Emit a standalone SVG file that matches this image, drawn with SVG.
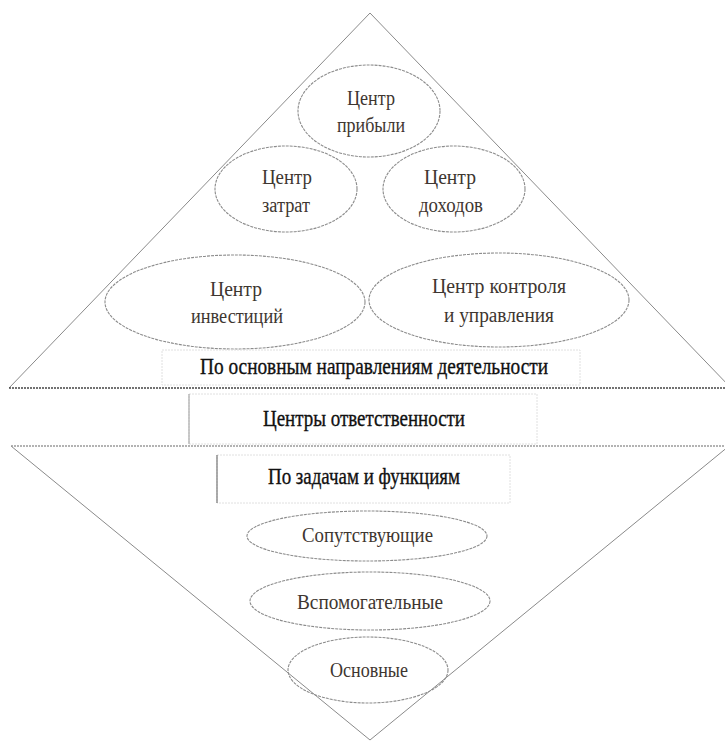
<svg xmlns="http://www.w3.org/2000/svg" width="725" height="743" viewBox="0 0 725 743">
<style>
.tri{fill:none;stroke:#8a8a8a;stroke-width:1}
.base{stroke:#444444;stroke-width:1.5;stroke-dasharray:2 1}
.base2{stroke:#9a9a9a;stroke-width:1.5;stroke-dasharray:2 1}
.ell{fill:none;stroke:#8c8c8c;stroke-width:1.1;stroke-dasharray:3 1}
.box{fill:#ffffff;stroke:#e0e0e0;stroke-width:1;stroke-dasharray:2 1}
.side{stroke:#aaaaaa;stroke-width:1.2}
text{font-family:"Liberation Serif","Times New Roman",serif}
.s{font-size:20px;fill:#3e3630}
.b{font-size:23px;fill:#111111;stroke:#111111;stroke-width:0.35}
</style>
<rect x="0" y="0" width="725" height="743" fill="#ffffff"/>
<g id="connectors">
<polyline class="tri" points="9,388 370,13 731,388"/>
<polyline class="tri" points="11,446 370,740 729,446"/>
<line class="base" x1="9" y1="388" x2="725" y2="388"/>
<line class="base2" x1="11" y1="446" x2="725" y2="446"/>
</g>
<g id="n-profit">
<ellipse class="ell" cx="369" cy="111" rx="71" ry="46"/>
<text class="s" x="347" y="105" textLength="48" lengthAdjust="spacingAndGlyphs" font-family="Liberation Serif, serif">Центр</text>
<text class="s" x="337" y="132" textLength="68" lengthAdjust="spacingAndGlyphs" font-family="Liberation Serif, serif">прибыли</text>
</g>
<g id="n-cost">
<ellipse class="ell" cx="286" cy="189" rx="71" ry="43"/>
<text class="s" x="262" y="184" textLength="50" lengthAdjust="spacingAndGlyphs" font-family="Liberation Serif, serif">Центр</text>
<text class="s" x="262" y="212" textLength="48" lengthAdjust="spacingAndGlyphs" font-family="Liberation Serif, serif">затрат</text>
</g>
<g id="n-revenue">
<ellipse class="ell" cx="454" cy="189" rx="71" ry="43"/>
<text class="s" x="424" y="184" textLength="52" lengthAdjust="spacingAndGlyphs" font-family="Liberation Serif, serif">Центр</text>
<text class="s" x="419" y="212" textLength="64" lengthAdjust="spacingAndGlyphs" font-family="Liberation Serif, serif">доходов</text>
</g>
<g id="n-invest">
<ellipse class="ell" cx="235" cy="302" rx="130" ry="47"/>
<text class="s" x="210" y="296" textLength="52" lengthAdjust="spacingAndGlyphs" font-family="Liberation Serif, serif">Центр</text>
<text class="s" x="191" y="323" textLength="92" lengthAdjust="spacingAndGlyphs" font-family="Liberation Serif, serif">инвестиций</text>
</g>
<g id="n-control">
<ellipse class="ell" cx="499" cy="300" rx="130" ry="47"/>
<text class="s" x="432" y="293" textLength="134" lengthAdjust="spacingAndGlyphs" font-family="Liberation Serif, serif">Центр  контроля</text>
<text class="s" x="444" y="322" textLength="110" lengthAdjust="spacingAndGlyphs" font-family="Liberation Serif, serif">и управления</text>
</g>
<g id="n-directions">
<rect class="box" x="162" y="350" width="418" height="35"/>
<text class="b" x="200" y="374" textLength="348" lengthAdjust="spacingAndGlyphs" font-family="Liberation Serif, serif">По основным направлениям деятельности</text>
</g>
<g id="n-centers">
<rect class="box" x="189" y="394" width="348" height="50"/>
<line class="side" x1="189" y1="394" x2="189" y2="444"/>
<text class="b" x="263" y="426" textLength="202" lengthAdjust="spacingAndGlyphs" font-family="Liberation Serif, serif">Центры ответственности</text>
</g>
<g id="n-tasks">
<rect class="box" x="217" y="455" width="293" height="48"/>
<line class="side" x1="217" y1="455" x2="217" y2="503" style="stroke:#777777"/>
<text class="b" x="268" y="484" textLength="192" lengthAdjust="spacingAndGlyphs" font-family="Liberation Serif, serif">По задачам и функциям</text>
</g>
<g id="n-accomp">
<ellipse class="ell" cx="367" cy="536" rx="120" ry="25"/>
<text class="s" x="302" y="542" textLength="131" lengthAdjust="spacingAndGlyphs" font-family="Liberation Serif, serif">Сопутствующие</text>
</g>
<g id="n-aux">
<ellipse class="ell" cx="370" cy="601" rx="120" ry="29"/>
<text class="s" x="297" y="609" textLength="146" lengthAdjust="spacingAndGlyphs" font-family="Liberation Serif, serif">Вспомогательные</text>
</g>
<g id="n-main">
<ellipse class="ell" cx="368" cy="670" rx="80" ry="33"/>
<text class="s" x="330" y="677" textLength="78" lengthAdjust="spacingAndGlyphs" font-family="Liberation Serif, serif">Основные</text>
</g>
</svg>
